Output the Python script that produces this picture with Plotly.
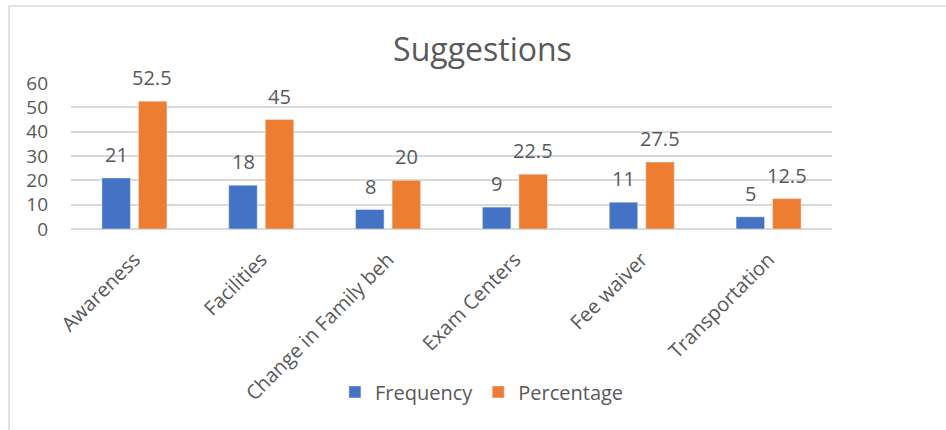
import plotly.graph_objects as go

categories = ["Awareness", "Facilities", "Change in Family beh", "Exam Centers", "Fee waiver", "Transportation"]
frequency = [21, 18, 8, 9, 11, 5]
percentage = [52.5, 45, 20, 22.5, 27.5, 12.5]

BLUE = "#4472C4"
ORANGE = "#ED7D31"
TEXT = "#595959"
GRID = "#D9D9D9"
FONT = "Open Sans"

fig = go.Figure()
fig.add_trace(go.Bar(name="Frequency", x=categories, y=frequency, marker_color=BLUE))
fig.add_trace(go.Bar(name="Percentage", x=categories, y=percentage, marker_color=ORANGE))

# value labels floating above each bar
for vals, shift in ((frequency, -18), (percentage, 18)):
    for cat, v in zip(categories, vals):
        fig.add_annotation(x=cat, y=v, text=f"{v:g}", showarrow=False, xshift=shift,
                           yanchor="bottom", yshift=8,
                           font=dict(family=FONT, size=20, color=TEXT))

# chart frame
fig.add_shape(type="rect", xref="paper", yref="paper",
              x0=-0.0815, x1=1.3, y0=-1.6, y1=1.5274,
              line=dict(color=GRID, width=1.5), layer="below")

fig.update_layout(
    width=946, height=430,
    margin=dict(l=71, r=114, t=83, b=201),
    paper_bgcolor="white", plot_bgcolor="white",
    barmode="group", bargap=0.424, bargroupgap=0.22,
    title=dict(text="Suggestions", x=0.51, xanchor="center", y=0.885, yanchor="middle",
               font=dict(family=FONT, size=32, color=TEXT)),
    font=dict(family=FONT, color=TEXT),
    legend=dict(orientation="h", x=0.54, xanchor="center", y=-1.116, yanchor="middle",
                font=dict(family=FONT, size=20, color=TEXT), itemwidth=30, traceorder="normal"),
    showlegend=True,
)
fig.update_yaxes(range=[0, 60], dtick=10, showgrid=True, gridcolor=GRID, gridwidth=1.5,
                 zeroline=True, zerolinecolor=GRID, zerolinewidth=1.5,
                 tickfont=dict(family=FONT, size=19, color=TEXT), ticklabelstandoff=22,
                 fixedrange=True)
fig.update_xaxes(tickangle=-45, tickfont=dict(family=FONT, size=20, color=TEXT),
                 showline=False, ticklabelstandoff=14, fixedrange=True)

fig.write_html("out.html")
